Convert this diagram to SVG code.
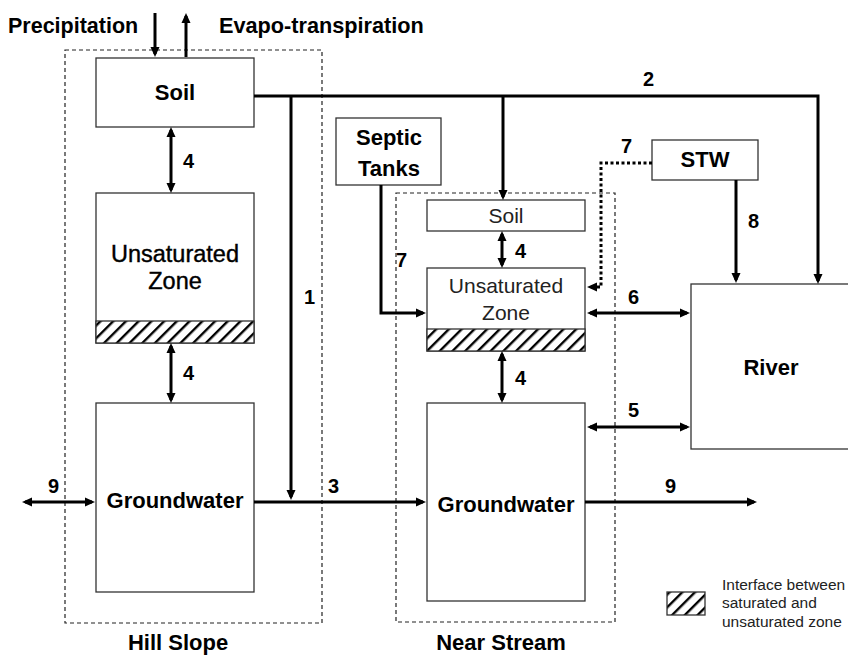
<svg xmlns="http://www.w3.org/2000/svg" width="848" height="657" viewBox="0 0 848 657">
<style>
  .box { fill: #fff; stroke: #333; stroke-width: 1.3; }
  .region { fill: none; stroke: #222; stroke-width: 1.2; stroke-dasharray: 4 3; }
  .hatch { fill: url(#hatch); stroke: #333; stroke-width: 1.3; }
  .b { font-family: "Liberation Sans", Arial, sans-serif; font-weight: bold; fill: #000; }
  .r { font-family: "Liberation Sans", Arial, sans-serif; fill: #222; }
  .lbl { font-size: 22px; text-anchor: middle; }
  .num { font-size: 20px; }
  .leg { font-size: 15.5px; }
  .flow { fill: none; stroke: #000; stroke-width: 3; }
  .one { marker-end: url(#ah); }
  .two { marker-start: url(#ah); marker-end: url(#ah); }
  .dot { stroke-dasharray: 3 2.5; }
</style>
<defs>
  <pattern id="hatch" patternUnits="userSpaceOnUse" width="9" height="9" patternTransform="rotate(45)">
    <rect width="9" height="9" fill="#fff"/>
    <rect x="0" y="0" width="2.4" height="9" fill="#000"/>
  </pattern>
  <marker id="ah" viewBox="0 0 10 10" refX="7" refY="5" markerWidth="10" markerHeight="10" markerUnits="userSpaceOnUse" orient="auto-start-reverse">
    <path d="M0,0.5 L10,5 L0,9.5 z" fill="#000"/>
  </marker>
</defs>

<!-- regions -->
<g id="hill-slope">
  <rect class="region" x="65" y="50" width="257" height="573"/>
  <text class="b lbl" x="178" y="650">Hill Slope</text>
</g>
<g id="near-stream">
  <rect class="region" x="396" y="193" width="219" height="429"/>
  <text class="b lbl" x="501" y="650">Near Stream</text>
</g>

<!-- nodes -->
<g id="hs-soil">
  <rect class="box" x="96" y="58" width="158" height="69"/>
  <text class="b lbl" x="175" y="100">Soil</text>
</g>
<g id="hs-unsat">
  <rect class="box" x="96" y="193" width="158" height="150"/>
  <rect class="hatch" x="96" y="321" width="158" height="22"/>
  <text class="r lbl" x="175" y="262" style="font-size:23.5px;fill:#000;stroke:#000;stroke-width:0.4">Unsaturated</text>
  <text class="r lbl" x="175" y="289" style="font-size:23.5px;fill:#000;stroke:#000;stroke-width:0.4">Zone</text>
</g>
<g id="hs-gw">
  <rect class="box" x="96" y="403" width="158" height="189"/>
  <text class="b lbl" x="175" y="508">Groundwater</text>
</g>
<g id="septic">
  <rect class="box" x="336" y="118" width="105" height="67"/>
  <text class="b lbl" x="389" y="145">Septic</text>
  <text class="b lbl" x="389" y="176">Tanks</text>
</g>
<g id="ns-soil">
  <rect class="box" x="427" y="200" width="158" height="31"/>
  <text class="r lbl" x="506" y="223" style="font-size:21px">Soil</text>
</g>
<g id="ns-unsat">
  <rect class="box" x="427" y="268" width="158" height="83"/>
  <rect class="hatch" x="427" y="329" width="158" height="22"/>
  <text class="r lbl" x="506" y="293" style="font-size:21px">Unsaturated</text>
  <text class="r lbl" x="506" y="320" style="font-size:21px">Zone</text>
</g>
<g id="ns-gw">
  <rect class="box" x="427" y="403" width="158" height="198"/>
  <text class="b lbl" x="506" y="512">Groundwater</text>
</g>
<g id="stw">
  <rect class="box" x="652" y="140" width="106" height="40"/>
  <text class="b lbl" x="705" y="167">STW</text>
</g>
<g id="river">
  <rect class="box" x="691" y="284" width="180" height="165"/>
  <text class="b lbl" x="771" y="375">River</text>
</g>

<!-- connectors -->
<g id="connectors">
  <line class="flow one" x1="155" y1="13" x2="155" y2="54"/>
  <line class="flow one" x1="186" y1="57" x2="186" y2="16"/>
  <line class="flow two" x1="171" y1="130" x2="171" y2="190"/>
  <line class="flow two" x1="171" y1="346" x2="171" y2="400"/>
  <polyline class="flow one" points="254,96 818,96 818,281"/>
  <line class="flow one" x1="291" y1="96" x2="291" y2="497"/>
  <line class="flow one" x1="503" y1="96" x2="503" y2="197"/>
  <polyline class="flow one" points="381,185 381,313 423,313"/>
  <line class="flow two" x1="502" y1="234" x2="502" y2="265"/>
  <line class="flow two" x1="502" y1="354" x2="502" y2="400"/>
  <polyline class="flow one dot" points="652,163 601,163 601,287 590,287"/>
  <line class="flow one" x1="736" y1="180" x2="736" y2="280"/>
  <line class="flow two" x1="590" y1="313" x2="687" y2="313"/>
  <line class="flow two" x1="590" y1="427" x2="687" y2="427"/>
  <line class="flow one" x1="254" y1="502" x2="423" y2="502"/>
  <line class="flow two" x1="25" y1="502" x2="92" y2="502"/>
  <line class="flow one" x1="585" y1="502" x2="754" y2="502"/>
</g>

<!-- labels -->
<g id="labels">
  <text class="b" x="8" y="33" style="font-size:21.5px">Precipitation</text>
  <text class="b" x="219" y="33" style="font-size:21.7px">Evapo-transpiration</text>
  <text class="b num" x="183" y="168">4</text>
  <text class="b num" x="183" y="380">4</text>
  <text class="b num" x="515" y="258">4</text>
  <text class="b num" x="515" y="385">4</text>
  <text class="b num" x="304" y="304">1</text>
  <text class="b num" x="643" y="86">2</text>
  <text class="b num" x="328" y="493">3</text>
  <text class="b num" x="628" y="417">5</text>
  <text class="b num" x="628" y="304">6</text>
  <text class="b num" x="396" y="267">7</text>
  <text class="b num" x="621" y="153">7</text>
  <text class="b num" x="748" y="228">8</text>
  <text class="b num" x="48" y="493">9</text>
  <text class="b num" x="665" y="493">9</text>
</g>

<!-- legend -->
<g id="legend">
  <rect class="hatch" x="667" y="592" width="38" height="23"/>
  <text class="r leg" x="722" y="590">Interface between</text>
  <text class="r leg" x="722" y="608">saturated and</text>
  <text class="r leg" x="722" y="627">unsaturated zone</text>
</g>
</svg>
